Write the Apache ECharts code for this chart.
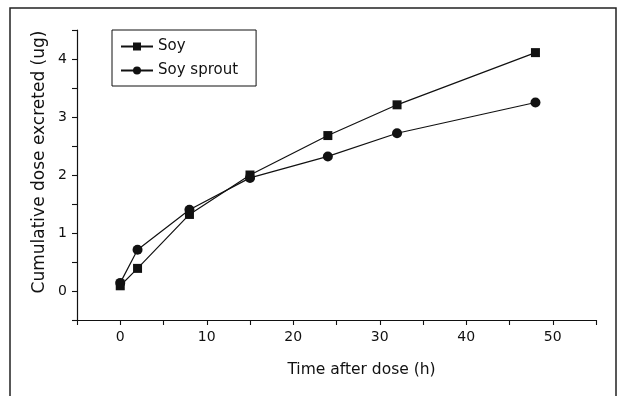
<!DOCTYPE html>
<html>
<head>
<meta charset="utf-8">
<script src="https://cdn.jsdelivr.net/npm/echarts@6/dist/echarts.min.js"></script>
<style>html,body{margin:0;padding:0;background:#fff}#c{width:618px;height:396px}</style>
</head>
<body>
<div id="c"></div>
<script>
const timeHours = [0, 2, 8, 15, 24, 32, 48];
const soyValues = [0.09, 0.39, 1.32, 2.0, 2.68, 3.21, 4.11];
const soySproutValues = [0.14, 0.71, 1.40, 1.95, 2.32, 2.72, 3.25];
const xTickLabels = [0, 10, 20, 30, 40, 50];
const yTickLabels = [0, 1, 2, 3, 4];
const X_MIN = -5, X_MAX = 55, X_TICK = 5;
const Y_MIN = -0.5, Y_MAX = 4.5, Y_TICK = 0.5;

const FONT = 'DejaVu Sans';
const chart = echarts.init(document.getElementById('c'));
const pair = (xs, ys) => xs.map((x, i) => [x, ys[i]]);
const lineCol = '#111';
const isMajor = (list, v) => list.some(t => Math.abs(t - v) < 1e-9);

// Axis that only carries the tick labels (no line, no ticks)
function labelAxis(min, max, pos, list) {
  return {
    type: 'value', min: min, max: max, position: pos,
    axisLine: { show: false, onZero: false },
    axisTick: { show: false },
    axisLabel: { customValues: list, margin: 10, fontFamily: FONT, fontSize: 14, color: '#111' },
    splitLine: { show: false }
  };
}

chart.setOption({
  animation: false,
  backgroundColor: '#fff',
  textStyle: { fontFamily: FONT, color: '#111' },
  graphic: [{
    type: 'rect', shape: { x: 10, y: 8, width: 606, height: 400 },
    style: { fill: 'none', stroke: '#222', lineWidth: 1.5 }, silent: true
  }],
  grid: { left: 77, right: 22, top: 30, bottom: 76 },
  legend: {
    orient: 'vertical', left: 112, top: 30,
    borderColor: '#111', borderWidth: 1, padding: [9, 18, 8, 8],
    itemWidth: 32, itemHeight: 10, itemGap: 9,
    textStyle: { fontFamily: FONT, fontSize: 15, color: '#111' },
    data: ['Soy', 'Soy sprout']
  },
  xAxis: [{
    type: 'value', min: X_MIN, max: X_MAX, interval: X_TICK,
    name: 'Time after dose (h)', nameLocation: 'middle', nameGap: 42,
    nameTextStyle: { fontFamily: FONT, fontSize: 15.5, color: '#111', padding: [0, 0, 0, 50] },
    axisLine: { show: true, onZero: false, lineStyle: { color: lineCol, width: 1.2 } },
    axisTick: { show: true, length: 5, lineStyle: { color: lineCol, width: 1.1 } },
    axisLabel: { show: false },
    splitLine: { show: false }
  }, labelAxis(X_MIN, X_MAX, 'bottom', xTickLabels)],
  yAxis: [{
    type: 'value', min: Y_MIN, max: Y_MAX, interval: Y_TICK,
    name: 'Cumulative dose excreted (ug)', nameLocation: 'middle', nameGap: 29,
    nameTextStyle: { fontFamily: FONT, fontSize: 17, color: '#111', padding: [0, 0, 0, 26] },
    axisLine: { show: true, onZero: false, lineStyle: { color: lineCol, width: 1.2 } },
    axisTick: { show: true, length: 5, lineStyle: { color: lineCol, width: 1.1 } },
    axisLabel: { show: false },
    splitLine: { show: false }
  }, labelAxis(Y_MIN, Y_MAX, 'left', yTickLabels)],
  series: [{
    name: 'Soy', type: 'line', data: pair(timeHours, soyValues),
    symbol: 'rect', symbolSize: 9,
    lineStyle: { color: lineCol, width: 1.2 }, itemStyle: { color: lineCol }
  }, {
    name: 'Soy sprout', type: 'line', data: pair(timeHours, soySproutValues),
    symbol: 'circle', symbolSize: 10,
    lineStyle: { color: lineCol, width: 1.2 }, itemStyle: { color: lineCol }
  }]
});
</script>
</body>
</html>
